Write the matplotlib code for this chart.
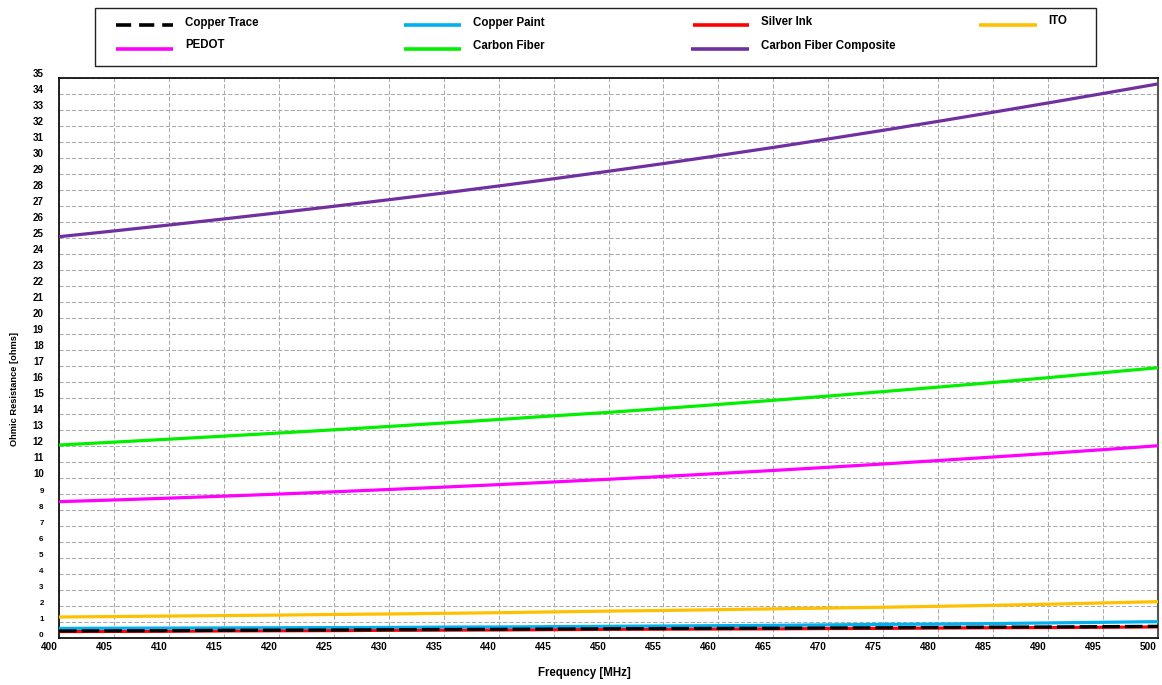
import matplotlib
matplotlib.use("Agg")
import matplotlib.pyplot as plt
from matplotlib.lines import Line2D
import matplotlib.transforms as mtrans

# ---------------- data ----------------
freq_mhz = [400, 405, 410, 415, 420, 425, 430, 435, 440, 445, 450,
            455, 460, 465, 470, 475, 480, 485, 490, 495, 500]

copper_trace = [0.46, 0.47, 0.48, 0.50, 0.51, 0.52, 0.54, 0.55, 0.56, 0.58, 0.60,
                0.61, 0.62, 0.63, 0.65, 0.66, 0.68, 0.70, 0.71, 0.73, 0.75]
copper_paint = [0.62, 0.63, 0.64, 0.65, 0.66, 0.67, 0.68, 0.70, 0.71, 0.73, 0.75,
                0.77, 0.79, 0.81, 0.84, 0.87, 0.89, 0.92, 0.96, 1.00, 1.04]
silver_ink = [0.42, 0.43, 0.44, 0.46, 0.47, 0.48, 0.50, 0.51, 0.52, 0.54, 0.56,
              0.57, 0.58, 0.59, 0.61, 0.62, 0.64, 0.66, 0.67, 0.69, 0.71]
ito = [1.33, 1.36, 1.39, 1.42, 1.45, 1.49, 1.52, 1.56, 1.60, 1.65, 1.70,
       1.74, 1.79, 1.84, 1.89, 1.94, 2.00, 2.06, 2.13, 2.21, 2.29]
pedot = [8.54, 8.645, 8.76, 8.885, 9.015, 9.155, 9.30, 9.45, 9.605, 9.77, 9.94,
         10.115, 10.30, 10.49, 10.69, 10.895, 11.11, 11.33, 11.555, 11.79, 12.035]
carbon_fiber = [12.08, 12.26, 12.445, 12.635, 12.83, 13.03, 13.24, 13.455, 13.675, 13.905, 14.12,
                14.365, 14.615, 14.875, 15.14, 15.42, 15.70, 15.99, 16.29, 16.60, 16.91]
carbon_fiber_composite = [25.10, 25.46, 25.83, 26.21, 26.60, 27.00, 27.41, 27.83, 28.27, 28.72, 29.19,
                          29.67, 30.17, 30.68, 31.21, 31.75, 32.31, 32.88, 33.46, 34.05, 34.65]

series_names = ["Copper Trace", "Copper Paint", "Silver Ink", "ITO",
                "PEDOT", "Carbon Fiber", "Carbon Fiber Composite"]
x_ticks = list(range(400, 501, 5))
y_ticks = list(range(0, 36))

# ---------------- style ----------------
FONT = "Liberation Sans"
colors = {
    "Copper Trace": "#000000",
    "Copper Paint": "#00B0F0",
    "Silver Ink": "#FF0000",
    "ITO": "#FFC000",
    "PEDOT": "#FF00FF",
    "Carbon Fiber": "#00F000",
    "Carbon Fiber Composite": "#7030A0",
}
LW = 2.3
DASH = (0, (5.5, 1.6))

fig = plt.figure(figsize=(11.62, 6.85), dpi=100)
ax = fig.add_axes([59 / 1162, 1 - 638.3 / 685, (1158 - 59) / 1162, (638.3 - 78.3) / 685])

values = {
    "Copper Trace": copper_trace,
    "Copper Paint": copper_paint,
    "Silver Ink": silver_ink,
    "ITO": ito,
    "PEDOT": pedot,
    "Carbon Fiber": carbon_fiber,
    "Carbon Fiber Composite": carbon_fiber_composite,
}
draw_order = ["Carbon Fiber Composite", "Carbon Fiber", "PEDOT", "ITO",
              "Silver Ink", "Copper Paint", "Copper Trace"]
for name in draw_order:
    ls = DASH if name == "Copper Trace" else "-"
    ax.plot(freq_mhz, values[name], color=colors[name], lw=LW, ls=ls,
            solid_capstyle="butt", dash_capstyle="butt", solid_joinstyle="round",
            zorder=3)

ax.set_xlim(400, 500)
ax.set_ylim(0, 35)
ax.set_xticks(x_ticks)
ax.set_yticks(y_ticks)
ax.set_xticklabels([str(v) for v in x_ticks], fontfamily=FONT, fontweight="bold",
                   fontsize=7.2, ha="right")
ax.set_yticklabels([str(v) for v in y_ticks], fontfamily=FONT, fontweight="bold",
                   va="bottom")
for lab, v in zip(ax.get_yticklabels(), y_ticks):
    lab.set_fontsize(7 if v >= 10 else 5.8)
ax.tick_params(axis="both", length=0)
ax.tick_params(axis="y", pad=11)
ax.tick_params(axis="x", pad=3)
offset = mtrans.ScaledTranslation(-1.5 / 100, 0, fig.dpi_scale_trans)
for lab in ax.get_xticklabels():
    lab.set_transform(lab.get_transform() + offset)
yoff = mtrans.ScaledTranslation(0, -1.0 / 100, fig.dpi_scale_trans)
for lab in ax.get_yticklabels():
    lab.set_transform(lab.get_transform() + yoff)

ax.grid(True, color="#ABABAB", ls=(0, (4, 2)), lw=0.75, zorder=1)
ax.set_axisbelow(True)
for side in ["left", "bottom", "top"]:
    ax.spines[side].set_color("#111111")
    ax.spines[side].set_linewidth(1.3)
ax.spines["right"].set_color("#555555")
ax.spines["right"].set_linewidth(1.5)

fig.text(584 / 1162, 1 - 672.7 / 685, "Frequency [MHz]", ha="center", va="center",
         fontfamily=FONT, fontweight="bold", fontsize=8.3)
fig.text(15 / 1162, 1 - 389 / 685, "Ohmic Resistance [ohms]", ha="center", va="center",
         rotation=90, fontfamily=FONT, fontweight="bold", fontsize=6.7)

# ---------------- legend (manual layout) ----------------
fig.patches.append(plt.Rectangle((94.6 / 1162, 1 - 66 / 685), (1096 - 94.6) / 1162,
                                 (66 - 7.5) / 685, transform=fig.transFigure,
                                 fill=False, edgecolor="#222222", lw=1.0))
legend_layout = {
    "Copper Trace": (115.6, 173, 185, 25, 23),
    "Copper Paint": (403.8, 461, 472.7, 25, 23),
    "Silver Ink": (692.7, 749, 760.7, 25, 22),
    "ITO": (979, 1036.7, 1048.3, 25, 21.5),
    "PEDOT": (115.6, 173, 185, 48.5, 45),
    "Carbon Fiber": (403.8, 461, 472.7, 48.5, 46),
    "Carbon Fiber Composite": (691, 749, 760.7, 48.5, 46),
}
for name in series_names:
    x0, x1, xt, yh, yt = legend_layout[name]
    ls = (0, (4.2, 2.2)) if name == "Copper Trace" else "-"
    fig.add_artist(Line2D([x0 / 1162, x1 / 1162], [1 - yh / 685, 1 - yh / 685],
                          transform=fig.transFigure, color=colors[name], lw=2.6,
                          ls=ls, solid_capstyle="butt", dash_capstyle="butt"))
    fig.text(xt / 1162, 1 - yt / 685, name, ha="left", va="center",
             fontfamily=FONT, fontweight="bold", fontsize=8.3)

fig.savefig("out.png", dpi=100)
